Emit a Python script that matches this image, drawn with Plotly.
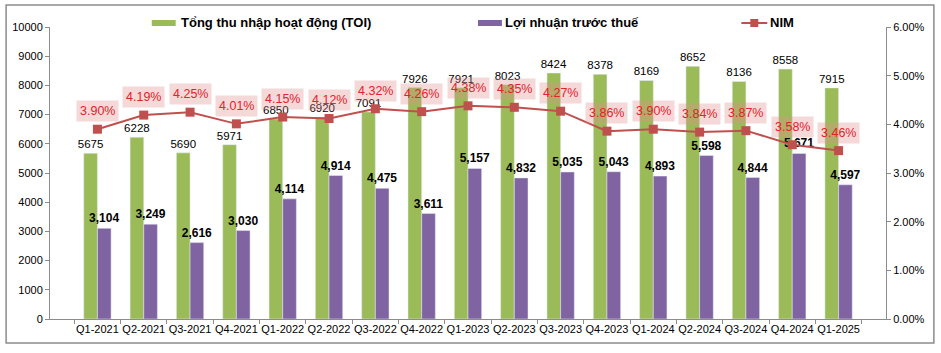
import plotly.graph_objects as go

categories = ["Q1-2021","Q2-2021","Q3-2021","Q4-2021","Q1-2022","Q2-2022","Q3-2022","Q4-2022",
              "Q1-2023","Q2-2023","Q3-2023","Q4-2023","Q1-2024","Q2-2024","Q3-2024","Q4-2024","Q1-2025"]
toi = [5675, 6228, 5690, 5971, 6850, 6920, 7091, 7926, 7921, 8023, 8424, 8378, 8169, 8652, 8136, 8558, 7915]
pbt = [3104, 3249, 2616, 3030, 4114, 4914, 4475, 3611, 5157, 4832, 5035, 5043, 4893, 5598, 4844, 5671, 4597]
nim = [3.90, 4.19, 4.25, 4.01, 4.15, 4.12, 4.32, 4.26, 4.38, 4.35, 4.27, 3.86, 3.90, 3.84, 3.87, 3.58, 3.46]
series_names = ["Tổng thu nhập hoạt động (TOI)", "Lợi nhuận trước thuế", "NIM"]

GREEN = "#9BBB59"
PURPLE = "#8064A2"
RED = "#C0504D"
FONT = "Liberation Sans, Arial, sans-serif"

# plot-area pixel geometry -> paper coordinates helpers
L, R, T, B, W, H = 48, 55, 27, 34, 941, 353
PW, PH = W - L - R, H - T - B
def px(x):
    return (x - L) / PW
def py(y):
    return (H - B - y) / PH

fig = go.Figure()
fig.add_trace(go.Bar(
    x=categories, y=toi, name=series_names[0], marker_color=GREEN,
    texttemplate="%{y}", textposition="outside", cliponaxis=False, constraintext="none",
    textfont=dict(size=11.5, color="black", family=FONT), showlegend=False))
fig.add_trace(go.Bar(
    x=categories, y=pbt, name=series_names[1], marker_color=PURPLE,
    texttemplate="%{y:,}", textposition="outside", cliponaxis=False, constraintext="none",
    textfont=dict(size=12, color="black", family=FONT, weight="bold"), showlegend=False))
fig.add_trace(go.Scatter(
    x=categories, y=[v / 100 for v in nim], name=series_names[2], yaxis="y2", mode="lines+markers",
    line=dict(color=RED, width=2), marker=dict(symbol="square", size=9, color=RED),
    cliponaxis=False, showlegend=False))

for c, v in zip(categories, nim):
    fig.add_annotation(x=c, y=v / 100, yref="y2", text=f"{v:.2f}%", showarrow=False,
                       yshift=18, bgcolor="rgba(225,140,140,0.33)", borderpad=3,
                       font=dict(size=12.5, color="#E3222B", family=FONT))

# outer frame
fig.add_shape(type="rect", xref="paper", yref="paper", x0=px(4), x1=px(934), y0=py(343), y1=py(5),
              line=dict(color="#8C8C8C", width=1.5), fillcolor="rgba(0,0,0,0)", layer="below")

# manual legend
legfont = dict(size=13, color="black", family=FONT, weight="bold")
ly = 23
fig.add_shape(type="rect", xref="paper", yref="paper", x0=px(150), x1=px(174), y0=py(ly + 3), y1=py(ly - 3),
              fillcolor=GREEN, line=dict(width=0))
fig.add_annotation(xref="paper", yref="paper", x=px(177), y=py(ly), xanchor="left", yanchor="middle",
                   text=series_names[0], showarrow=False, font=legfont)
fig.add_shape(type="rect", xref="paper", yref="paper", x0=px(477), x1=px(501), y0=py(ly + 3), y1=py(ly - 3),
              fillcolor=PURPLE, line=dict(width=0))
fig.add_annotation(xref="paper", yref="paper", x=px(502), y=py(ly), xanchor="left", yanchor="middle",
                   text=series_names[1], showarrow=False, font=legfont)
fig.add_shape(type="line", xref="paper", yref="paper", x0=px(741), x1=px(767), y0=py(ly), y1=py(ly),
              line=dict(color=RED, width=2))
fig.add_shape(type="rect", xref="paper", yref="paper", x0=px(750), x1=px(758), y0=py(ly + 4), y1=py(ly - 4),
              fillcolor=RED, line=dict(width=0))
fig.add_annotation(xref="paper", yref="paper", x=px(768), y=py(ly), xanchor="left", yanchor="middle",
                   text=series_names[2], showarrow=False, font=legfont)

fig.update_layout(
    width=W, height=H,
    margin=dict(l=L, r=R, t=T, b=B),
    paper_bgcolor="white", plot_bgcolor="white",
    barmode="group", bargap=0.41, bargroupgap=0,
    font=dict(family=FONT, size=11, color="black"),
    showlegend=False,
    xaxis=dict(showline=True, linecolor="#8C8C8C", linewidth=1, ticks="outside",
               tickson="boundaries", ticklen=4, tickcolor="#8C8C8C", tickangle=0,
               tickfont=dict(size=11, family=FONT)),
    yaxis=dict(range=[0, 10000], dtick=1000, tickformat="d", showgrid=False, showline=True,
               linecolor="#8C8C8C", ticks="outside", ticklen=4, tickcolor="#8C8C8C", zeroline=False,
               tickfont=dict(size=11)),
    yaxis2=dict(range=[0, 0.06], dtick=0.01, tickformat=".2%", overlaying="y", side="right",
                showgrid=False, showline=True, linecolor="#8C8C8C", ticks="outside", ticklen=4,
                tickcolor="#8C8C8C", zeroline=False, tickfont=dict(size=11)),
)

fig.write_html("out.html")
